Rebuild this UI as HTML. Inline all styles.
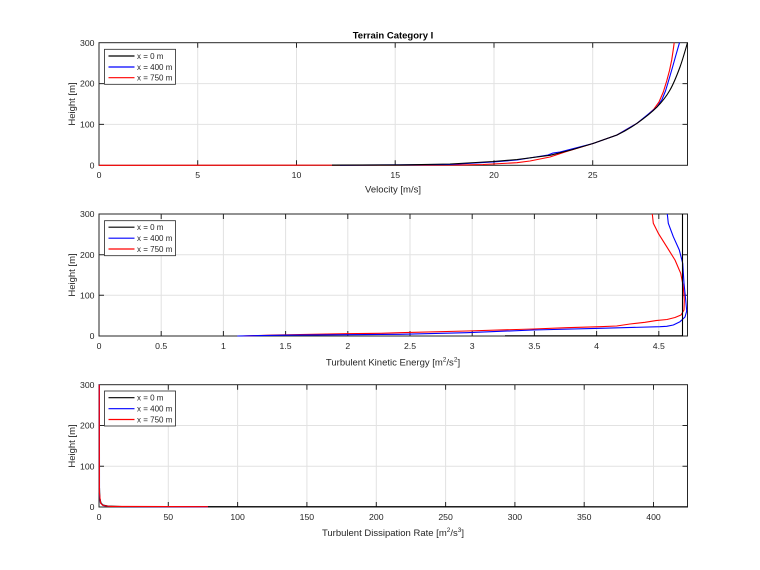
<!DOCTYPE html>
<html><head><meta charset="utf-8"><style>
html,body{margin:0;padding:0;background:#fff;}
svg{display:block;}
text{font-family:"Liberation Sans",Arial,sans-serif;fill:#262626;}
.t{font-size:8.7px;}
.lg{font-size:8px;}
.l{font-size:9.5px;}
.g{stroke:#e2e2e2;stroke-width:1;fill:none;}
.ax{stroke:#262626;stroke-width:1;fill:none;}
.d{fill:none;stroke-width:1.1;stroke-linejoin:round;}
</style></head><body>
<svg width="760" height="570" viewBox="0 0 760 570" xmlns="http://www.w3.org/2000/svg">
<rect width="760" height="570" fill="#fff"/>

<!-- ============ AXES 1 ============ -->
<g>
<path class="g" d="M197.7 42.7V165.3M296.5 42.7V165.3M395.2 42.7V165.3M494 42.7V165.3M592.7 42.7V165.3M99 124.4H687.5M99 83.6H687.5"/>
<rect class="ax" x="99" y="42.7" width="588.5" height="122.6"/>
<path class="ax" d="M197.7 165.3v-5M296.5 165.3v-5M395.2 165.3v-5M494 165.3v-5M592.7 165.3v-5M197.7 42.7v5M296.5 42.7v5M395.2 42.7v5M494 42.7v5M592.7 42.7v5M99 124.4h5M99 83.6h5M687.5 124.4h-5M687.5 83.6h-5"/>
<polyline class="d" stroke="#ff0000" points="99,165.3 430,165.1 463,164.9 483,164.5 517,162.7 530,161 550,157 556,155 565,152 593,143.5 617,135 637,123.3 647,115.5 654,109 659,102 663.3,92 666.7,81 669.5,70.5 671.7,60 673.2,50 674.2,42.7"/>
<polyline class="d" stroke="#0000ff" points="340,165.2 450,164.5 493,162 517,160 548,155 553,153 560,152 593,143.5 617,135 637,123.3 657,107 662,99.5 665.5,91 668.8,80 672.3,68 675.8,55.5 679.5,42.7"/>
<path class="d" stroke="#000000" d="M332,165.1 L400,164.9 L450,164 L493,161.5 L517,159.5 L550,155.3 L571,150 L593,143.5 L617,135 C624.3,131.6 630.3,128 637,123.3 C643.7,118.6 651.5,112.55 657,107 C662.5,101.45 666.17,96.67 670,90 C673.83,83.33 677.08,74.88 680,67 C682.92,59.12 686.25,46.75 687.5,42.7"/>
<g class="t" text-anchor="middle">
<text x="99" y="178">0</text><text x="197.7" y="178">5</text><text x="296.5" y="178">10</text><text x="395.2" y="178">15</text><text x="494" y="178">20</text><text x="592.7" y="178">25</text>
</g>
<g class="t" text-anchor="end">
<text x="94.5" y="168.5">0</text><text x="94.5" y="127.5">100</text><text x="94.5" y="86.7">200</text><text x="94.5" y="45.8">300</text>
</g>
<text class="l" x="393" y="192.3" text-anchor="middle">Velocity [m/s]</text>
<text class="l" transform="translate(75,104) rotate(-90)" text-anchor="middle">Height [m]</text>
<text x="393" y="38.5" text-anchor="middle" style="font-size:9.5px;font-weight:bold;fill:#000">Terrain Category I</text>
<rect x="104.5" y="49.3" width="71" height="35" fill="#fff" stroke="#262626" stroke-width="0.8"/>
<path d="M108.5 56H134.5" stroke="#000" stroke-width="1.2"/>
<path d="M108.5 67H134.5" stroke="#0000ff" stroke-width="1.2"/>
<path d="M108.5 77.7H134.5" stroke="#ff0000" stroke-width="1.2"/>
<g class="lg"><text x="137" y="58.9">x = 0 m</text><text x="137" y="69.9">x = 400 m</text><text x="137" y="80.6">x = 750 m</text></g>
</g>

<!-- ============ AXES 2 ============ -->
<g>
<path class="g" d="M161.2 214V336M223.4 214V336M285.6 214V336M347.8 214V336M410 214V336M472.2 214V336M534.4 214V336M596.6 214V336M658.8 214V336M99 295.3H687.5M99 254.7H687.5"/>
<rect class="ax" x="99" y="214" width="588.5" height="122"/>
<path class="ax" d="M161.2 336v-5M223.4 336v-5M285.6 336v-5M347.8 336v-5M410 336v-5M472.2 336v-5M534.4 336v-5M596.6 336v-5M658.8 336v-5M161.2 214v5M223.4 214v5M285.6 214v5M347.8 214v5M410 214v5M472.2 214v5M534.4 214v5M596.6 214v5M658.8 214v5M99 295.3h5M99 254.7h5M687.5 295.3h-5M687.5 254.7h-5"/>
<polyline class="d" stroke="#ff0000" points="242.7,336 273.3,335 346.7,333.7 380,333.3 400,332.7 466.7,331 533.3,329 566.7,327.7 600,326.7 616.7,326 630,324 645,322.3 656,320.6 667,319.5 675,317.5 681,315 684,310 684.3,300 683.3,286.7 680.7,273.3 675,260 666.7,246.7 658.3,233.3 653.3,223.3 652.3,214"/>
<polyline class="d" stroke="#0000ff" points="237.3,336 283,335.2 400,334.3 466.7,332.7 533.3,330 600,328.3 660,326.7 666.7,326.3 673.3,325 680,321.7 685,317 686.7,311 685.7,300 684,283.3 682.7,263.3 679.3,250 673.3,236.7 668.3,223.3 667.3,214"/>
<polyline class="d" stroke="#000000" points="505,335.8 682.5,335.8 682.5,214"/>
<g class="t" text-anchor="middle">
<text x="99" y="348.8">0</text><text x="161.2" y="348.8">0.5</text><text x="223.4" y="348.8">1</text><text x="285.6" y="348.8">1.5</text><text x="347.8" y="348.8">2</text><text x="410" y="348.8">2.5</text><text x="472.2" y="348.8">3</text><text x="534.4" y="348.8">3.5</text><text x="596.6" y="348.8">4</text><text x="658.8" y="348.8">4.5</text>
</g>
<g class="t" text-anchor="end">
<text x="94.5" y="339.2">0</text><text x="94.5" y="298.5">100</text><text x="94.5" y="257.9">200</text><text x="94.5" y="217.2">300</text>
</g>
<text class="l" x="393" y="365.3" text-anchor="middle">Turbulent Kinetic Energy [m<tspan dy="-4" style="font-size:6.5px">2</tspan><tspan dy="4">/s</tspan><tspan dy="-4" style="font-size:6.5px">2</tspan><tspan dy="4">]</tspan></text>
<text class="l" transform="translate(75,275) rotate(-90)" text-anchor="middle">Height [m]</text>
<rect x="104.5" y="220.7" width="71" height="35" fill="#fff" stroke="#262626" stroke-width="0.8"/>
<path d="M108.5 227.2H134.5" stroke="#000" stroke-width="1.2"/>
<path d="M108.5 238.2H134.5" stroke="#0000ff" stroke-width="1.2"/>
<path d="M108.5 249H134.5" stroke="#ff0000" stroke-width="1.2"/>
<g class="lg"><text x="137" y="230.1">x = 0 m</text><text x="137" y="241.1">x = 400 m</text><text x="137" y="251.9">x = 750 m</text></g>
</g>

<!-- ============ AXES 3 ============ -->
<g>
<path class="g" d="M168.3 384.7V507M237.6 384.7V507M306.9 384.7V507M376.3 384.7V507M445.6 384.7V507M514.9 384.7V507M584.2 384.7V507M653.5 384.7V507M99 466.2H687.5M99 425.5H687.5"/>
<rect class="ax" x="99" y="384.7" width="588.5" height="122.3"/>
<path class="ax" d="M168.3 507v-5M237.6 507v-5M306.9 507v-5M376.3 507v-5M445.6 507v-5M514.9 507v-5M584.2 507v-5M653.5 507v-5M168.3 384.7v5M237.6 384.7v5M306.9 384.7v5M376.3 384.7v5M445.6 384.7v5M514.9 384.7v5M584.2 384.7v5M653.5 384.7v5M99 466.2h5M99 425.5h5M687.5 466.2h-5M687.5 425.5h-5"/>
<polyline class="d" stroke="#000000" points="99.5,488 99.8,498 101,503 103,505 108,506 122,506.6 687.5,506.8"/>
<polyline class="d" stroke="#0000ff" points="99.4,384.7 99.5,495 100.5,503 103,505.5 110,506.5 208,506.8"/>
<polyline class="d" stroke="#ff0000" points="99.3,384.7 99.4,492 100.5,503 103,505.5 110,506.4 208,506.7"/>
<g class="t" text-anchor="middle">
<text x="99" y="519.8">0</text><text x="168.3" y="519.8">50</text><text x="237.6" y="519.8">100</text><text x="306.9" y="519.8">150</text><text x="376.3" y="519.8">200</text><text x="445.6" y="519.8">250</text><text x="514.9" y="519.8">300</text><text x="584.2" y="519.8">350</text><text x="653.5" y="519.8">400</text>
</g>
<g class="t" text-anchor="end">
<text x="94.5" y="510.2">0</text><text x="94.5" y="469.4">100</text><text x="94.5" y="428.7">200</text><text x="94.5" y="387.9">300</text>
</g>
<text class="l" x="393" y="535.8" text-anchor="middle">Turbulent Dissipation Rate [m<tspan dy="-4" style="font-size:6.5px">2</tspan><tspan dy="4">/s</tspan><tspan dy="-4" style="font-size:6.5px">3</tspan><tspan dy="4">]</tspan></text>
<text class="l" transform="translate(75,446) rotate(-90)" text-anchor="middle">Height [m]</text>
<rect x="104.5" y="391" width="71" height="35" fill="#fff" stroke="#262626" stroke-width="0.8"/>
<path d="M108.5 397.7H134.5" stroke="#000" stroke-width="1.2"/>
<path d="M108.5 408.7H134.5" stroke="#0000ff" stroke-width="1.2"/>
<path d="M108.5 419.5H134.5" stroke="#ff0000" stroke-width="1.2"/>
<g class="lg"><text x="137" y="400.6">x = 0 m</text><text x="137" y="411.6">x = 400 m</text><text x="137" y="422.4">x = 750 m</text></g>
</g>
</svg>
</body></html>
